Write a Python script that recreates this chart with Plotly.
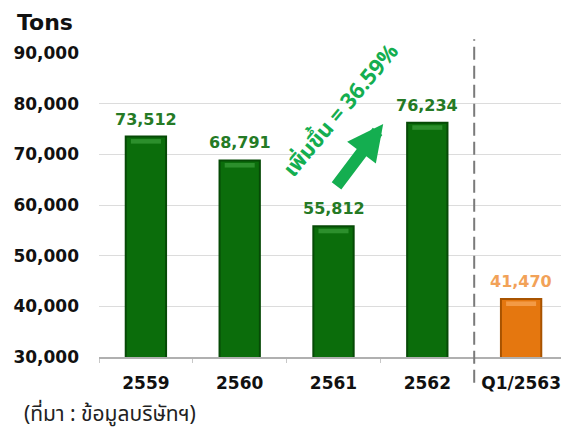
import plotly.graph_objects as go

categories = ["2559", "2560", "2561", "2562", "Q1/2563"]
values = [73512, 68791, 55812, 76234, 41470]
bar_colors = ["#0b6d0b", "#0b6d0b", "#0b6d0b", "#0b6d0b", "#e5770f"]
edge_colors = ["#064a06", "#064a06", "#064a06", "#064a06", "#a85300"]
gloss_colors = ["#2c8f2c", "#2c8f2c", "#2c8f2c", "#2c8f2c", "#f39a45"]
label_colors = ["#257a25", "#257a25", "#257a25", "#257a25", "#f2a258"]
y_ticks = [30000, 40000, 50000, 60000, 70000, 80000, 90000]
y_title = "Tons"
source_text = "(ที่มา : ข้อมูลบริษัทฯ)"
growth_text = "เพิ่มขึ้น = 36.59%"

FONT = "DejaVu Sans"
THAI = "Noto Sans Thai, Tahoma, DejaVu Sans"

GLOSS_DEPTH = 1400   # how far below the bar top the glossy band starts
GLOSS_HEIGHT = 900

fig = go.Figure()
fig.add_trace(go.Bar(
    x=categories,
    y=values,
    base=0,
    marker=dict(color=bar_colors, line=dict(color=edge_colors, width=2)),
    width=0.43,
    hoverinfo="x+y",
))
# glossy top highlight of each bar
fig.add_trace(go.Bar(
    x=categories,
    y=[GLOSS_HEIGHT] * len(values),
    base=[v - GLOSS_DEPTH for v in values],
    marker=dict(color=gloss_colors, line=dict(width=0)),
    width=0.32,
    hoverinfo="skip",
))

# value labels above bars (x given as category index)
for i, (v, col) in enumerate(zip(values, label_colors)):
    fig.add_annotation(x=i, y=v, xref="x", yref="y", text=f"{v:,}", showarrow=False,
                       yanchor="bottom", yshift=6,
                       font=dict(family=FONT, size=16, color=col, weight="bold"))

# the page body adds an 8px margin, so the figure is 8px smaller than the window
fig.update_layout(
    width=561, height=424,
    margin=dict(l=91, r=1, t=45, b=75),
    paper_bgcolor="white", plot_bgcolor="white",
    showlegend=False,
    barmode="overlay",
    font=dict(family=FONT, color="#111111"),
    xaxis=dict(
        type="category",
        categoryorder="array", categoryarray=categories,
        range=[-0.5, len(categories) - 0.5],
        tickfont=dict(family=FONT, size=17, color="#111111", weight="bold"),
        showgrid=False,
        showline=True, linecolor="#b0b0b0", linewidth=1.5,
        ticks="outside", tickson="boundaries", ticklen=4, tickcolor="#c8c8c8", tickwidth=1,
        ticklabelstandoff=10,
    ),
    yaxis=dict(
        range=[30000, 90000],
        tickvals=y_ticks,
        tickformat=",",
        tickfont=dict(family=FONT, size=17, color="#111111", weight="bold"),
        showgrid=True, gridcolor="#dcdcdc", gridwidth=1,
        zeroline=False,
        showline=False,
        ticklabelstandoff=19,
    ),
)

# separator dashed line
fig.add_shape(type="line", xref="x", yref="paper", x0=3.5, x1=3.5, y0=-0.085, y1=1.045,
              line=dict(color="#7a7a7a", width=2, dash="13px,6px"))

# title "Tons"
fig.add_annotation(text=y_title, xref="paper", yref="paper", x=-0.179, y=1.147,
                   xanchor="left", yanchor="top", showarrow=False,
                   font=dict(family=FONT, size=22, color="#111111", weight="bold"))
# source
fig.add_annotation(text=source_text, xref="paper", yref="paper", x=-0.164, y=-0.2467,
                   xanchor="left", yanchor="bottom", showarrow=False,
                   font=dict(family=THAI, size=21, color="#222222"))

# growth arrow
fig.add_annotation(x=2.53, y=76000, ax=2.02, ay=63500, xref="x", yref="y", axref="x", ayref="y",
                   text="", showarrow=True, arrowhead=2, arrowsize=0.6, arrowwidth=12,
                   arrowcolor="#14ae50")
fig.add_annotation(text=growth_text, x=2.09, y=78600, xref="x", yref="y", showarrow=False,
                   textangle=-50,
                   font=dict(family=THAI, size=22, color="#14ae50", weight="bold"))

fig.write_html("out.html")
